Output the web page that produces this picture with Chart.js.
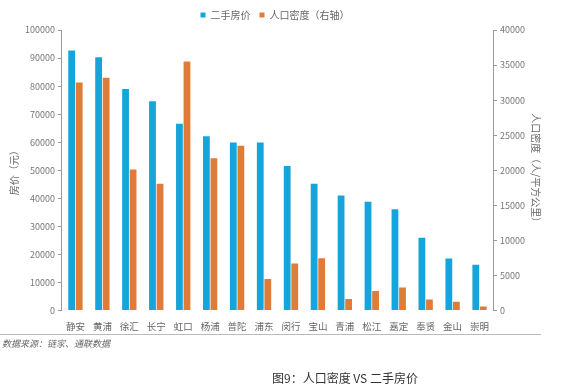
<html lang="zh">
<head>
  <meta charset="UTF-8">
  <title>人口密度 VS 二手房价</title>
  <script src="https://cdn.jsdelivr.net/npm/chart.js"></script>
  <style>
    body { margin: 0; background: #fff; }
    #chart { display: block; }
  </style>
</head>
<body>
  <canvas id="chart" width="569" height="390"></canvas>
  <script>
    const districts = ["静安", "黄浦", "徐汇", "长宁", "虹口", "杨浦", "普陀", "浦东", "闵行",
                       "宝山", "青浦", "松江", "嘉定", "奉贤", "金山", "崇明"];
    // 二手房价（元）
    const housePrice = [92700, 90300, 79000, 74600, 66600, 62100, 59900, 59900, 51500,
                        45200, 41000, 38800, 36100, 26000, 18600, 16300];
    // 人口密度（人/平方公里）
    const popDensity = [32500, 33200, 20100, 18100, 35500, 21700, 23500, 4500, 6700,
                        7450, 1650, 2800, 3300, 1600, 1250, 600];

    const FONT = "'Noto Sans CJK SC', 'Noto Sans', sans-serif";

    // source note, separator line and figure caption under the chart
    const footerPlugin = {
      id: 'footer',
      afterDraw(chart) {
        const ctx = chart.ctx;
        ctx.save();
        ctx.strokeStyle = '#bbb';
        ctx.lineWidth = 1;
        ctx.beginPath();
        ctx.moveTo(0, 334.5);
        ctx.lineTo(541, 334.5);
        ctx.stroke();

        ctx.fillStyle = '#666';
        ctx.font = 'italic 9px ' + FONT;
        ctx.textBaseline = 'middle';
        ctx.textAlign = 'left';
        ctx.fillText('数据来源：链家、通联数据', 2, 344);

        ctx.fillStyle = '#333';
        ctx.font = '12px ' + FONT;
        ctx.fillText('图9：人口密度 VS 二手房价', 272, 378);
        ctx.restore();
      }
    };

    new Chart(document.getElementById('chart'), {
      type: 'bar',
      data: {
        labels: districts,
        datasets: [
          {
            label: '二手房价',
            data: housePrice,
            backgroundColor: '#16a4dc',
            yAxisID: 'y',
            categoryPercentage: 0.56,
            barPercentage: 0.9
          },
          {
            label: '人口密度（右轴）',
            data: popDensity,
            backgroundColor: '#e07c3a',
            yAxisID: 'y1',
            categoryPercentage: 0.56,
            barPercentage: 0.9
          }
        ]
      },
      options: {
        responsive: false,
        animation: false,
        layout: { padding: { left: 6, right: 25, top: 1, bottom: 56 } },
        plugins: {
          legend: {
            display: true,
            position: 'top',
            labels: {
              boxWidth: 5,
              boxHeight: 5,
              padding: 9,
              color: '#666',
              font: { size: 10, family: FONT }
            }
          },
          tooltip: { enabled: false }
        },
        scales: {
          x: {
            grid: { display: false },
            border: { display: false },
            ticks: { color: '#666', font: { size: 9.5, family: FONT }, maxRotation: 0, autoSkip: false, padding: 2 }
          },
          y: {
            position: 'left',
            min: 0,
            max: 100000,
            ticks: { stepSize: 10000, color: '#777', font: { size: 9, family: FONT }, padding: 3, callback: v => String(v) },
            grid: { drawOnChartArea: false, drawTicks: true, tickLength: 4, color: '#999' },
            border: { color: '#999' },
            title: { display: true, text: '房价（元）', color: '#666', font: { size: 10, family: FONT }, padding: 2 }
          },
          y1: {
            position: 'right',
            min: 0,
            max: 40000,
            ticks: { stepSize: 5000, color: '#777', font: { size: 9, family: FONT }, padding: 3, callback: v => String(v) },
            grid: { drawOnChartArea: false, drawTicks: true, tickLength: 4, color: '#999' },
            border: { color: '#999' },
            title: { display: true, text: '人口密度（人/平方公里）', color: '#666', font: { size: 10, family: FONT }, padding: 2 }
          }
        }
      },
      plugins: [footerPlugin]
    });
  </script>
</body>
</html>
